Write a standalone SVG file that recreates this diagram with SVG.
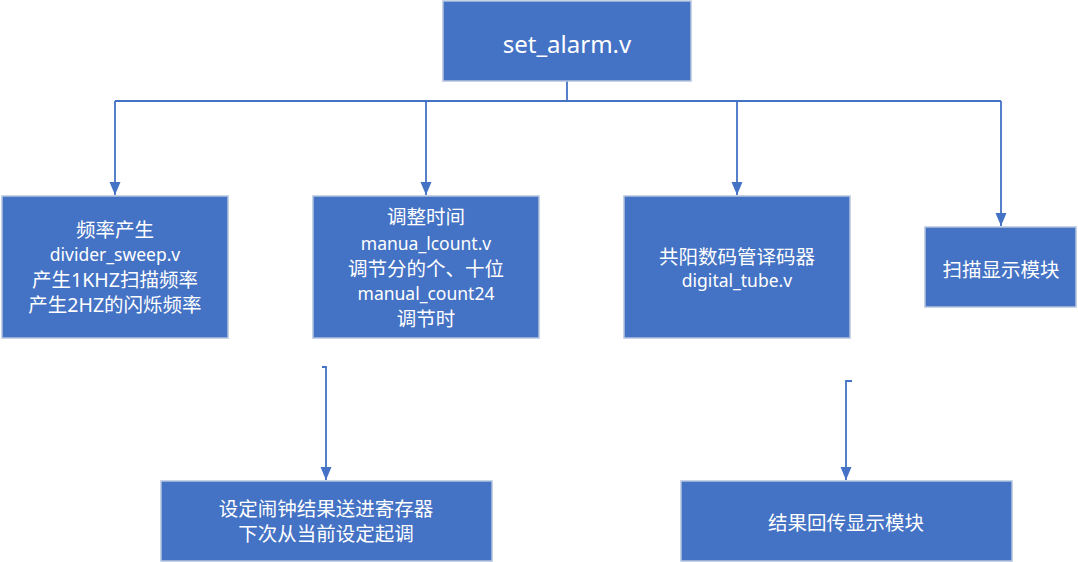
<svg xmlns="http://www.w3.org/2000/svg" width="1078" height="562" viewBox="0 0 1078 562">
<style>
.box{fill:#4472C4;stroke:#B4C3DE;stroke-width:1.5}
.t{fill:#fff;font-family:"Noto Sans","Noto Sans CJK SC",sans-serif;font-size:19.5px;text-anchor:middle;dominant-baseline:central}
.l{font-size:17.5px}
.c{fill:none;stroke:#4472C4;stroke-width:1.8}
</style>
<defs>
<marker id="ah" markerUnits="userSpaceOnUse" markerWidth="14" markerHeight="12" refX="13" refY="6" orient="auto" viewBox="0 0 14 12">
<path d="M0,0.5 L13,6 L0,11.5 Z" fill="#4472C4"/>
</marker>
</defs>
<g id="connectors">
<path class="c" d="M567,81 V101"/>
<path class="c" d="M115,101 H1001"/>
<path class="c" d="M115,101 V195" marker-end="url(#ah)"/>
<path class="c" d="M426,101 V195" marker-end="url(#ah)"/>
<path class="c" d="M737,101 V195" marker-end="url(#ah)"/>
<path class="c" d="M1001,101 V226" marker-end="url(#ah)"/>
<path class="c" d="M322,367 H326 V480" marker-end="url(#ah)"/>
<path class="c" d="M852,381 H846 V480" marker-end="url(#ah)"/>
</g>
<g id="set_alarm">
<rect class="box" x="443" y="1" width="248" height="80"/>
<text class="t" x="567" y="43" style="font-size:24px">set_alarm.v</text>
</g>
<g id="divider">
<rect class="box" x="2" y="196" width="226" height="142"/>
<text class="t" x="115" y="229">频率产生</text>
<text class="t l" x="115" y="254">divider_sweep.v</text>
<text class="t" x="115" y="279">产生1KHZ扫描频率</text>
<text class="t" x="115" y="304">产生2HZ的闪烁频率</text>
</g>
<g id="manual">
<rect class="box" x="313" y="196" width="226" height="142"/>
<text class="t" x="426" y="216">调整时间</text>
<text class="t l" x="426" y="243">manua_lcount.v</text>
<text class="t" x="426" y="268">调节分的个、十位</text>
<text class="t l" x="426" y="293">manual_count24</text>
<text class="t" x="426" y="318">调节时</text>
</g>
<g id="digital">
<rect class="box" x="624" y="196" width="226" height="142"/>
<text class="t" x="737" y="256">共阳数码管译码器</text>
<text class="t l" x="737" y="280">digital_tube.v</text>
</g>
<g id="scan">
<rect class="box" x="925" y="227" width="151" height="80"/>
<text class="t" x="1001" y="269">扫描显示模块</text>
</g>
<g id="register">
<rect class="box" x="161" y="481" width="331" height="80"/>
<text class="t" x="326" y="508">设定闹钟结果送进寄存器</text>
<text class="t" x="326" y="533">下次从当前设定起调</text>
</g>
<g id="feedback">
<rect class="box" x="681" y="481" width="331" height="80"/>
<text class="t" x="846" y="522">结果回传显示模块</text>
</g>
</svg>
